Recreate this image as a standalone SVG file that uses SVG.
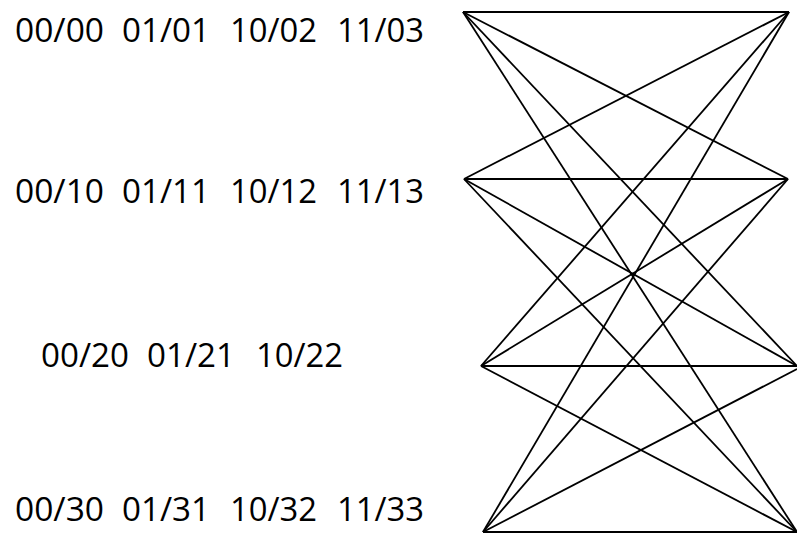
<svg xmlns="http://www.w3.org/2000/svg" width="797" height="546" viewBox="0 0 797 546">
<style>
text{font-family:"Open Sans","Liberation Sans",sans-serif;font-size:32px;fill:#000}
.e line{stroke:#000;stroke-width:1.8;fill:none}
</style>
<rect width="797" height="546" fill="#fff"/>
<g id="labels">
<g id="row0">
<text x="15" y="42" textLength="89" lengthAdjust="spacingAndGlyphs">00/00</text>
<text x="122" y="42" textLength="88" lengthAdjust="spacingAndGlyphs">01/01</text>
<text x="230" y="42" textLength="87" lengthAdjust="spacingAndGlyphs">10/02</text>
<text x="337" y="42" textLength="87" lengthAdjust="spacingAndGlyphs">11/03</text>
</g>
<g id="row1">
<text x="15" y="203" textLength="89" lengthAdjust="spacingAndGlyphs">00/10</text>
<text x="122" y="203" textLength="88" lengthAdjust="spacingAndGlyphs">01/11</text>
<text x="230" y="203" textLength="87" lengthAdjust="spacingAndGlyphs">10/12</text>
<text x="337" y="203" textLength="87" lengthAdjust="spacingAndGlyphs">11/13</text>
</g>
<g id="row2">
<text x="41" y="367" textLength="88" lengthAdjust="spacingAndGlyphs">00/20</text>
<text x="147" y="367" textLength="88" lengthAdjust="spacingAndGlyphs">01/21</text>
<text x="256" y="367" textLength="87" lengthAdjust="spacingAndGlyphs">10/22</text>
</g>
<g id="row3">
<text x="15" y="521" textLength="89" lengthAdjust="spacingAndGlyphs">00/30</text>
<text x="122" y="521" textLength="88" lengthAdjust="spacingAndGlyphs">01/31</text>
<text x="230" y="521" textLength="87" lengthAdjust="spacingAndGlyphs">10/32</text>
<text x="337" y="521" textLength="87" lengthAdjust="spacingAndGlyphs">11/33</text>
</g>
</g>
<g id="connectors" class="e">
<line x1="463" y1="12" x2="789" y2="12"/>
<line x1="463" y1="12" x2="788" y2="179"/>
<line x1="463" y1="12" x2="797" y2="366"/>
<line x1="463" y1="12" x2="797" y2="532"/>
<line x1="464" y1="179" x2="789" y2="12"/>
<line x1="464" y1="179" x2="788" y2="179"/>
<line x1="464" y1="179" x2="797" y2="366"/>
<line x1="464" y1="179" x2="797" y2="532"/>
<line x1="481" y1="366" x2="789" y2="12"/>
<line x1="481" y1="366" x2="788" y2="179"/>
<line x1="481" y1="366" x2="797" y2="366"/>
<line x1="481" y1="366" x2="797" y2="532"/>
<line x1="483" y1="532" x2="789" y2="12"/>
<line x1="483" y1="532" x2="788" y2="179"/>
<line x1="483" y1="532" x2="797" y2="369"/>
<line x1="483" y1="532" x2="797" y2="532"/>
</g>
</svg>
